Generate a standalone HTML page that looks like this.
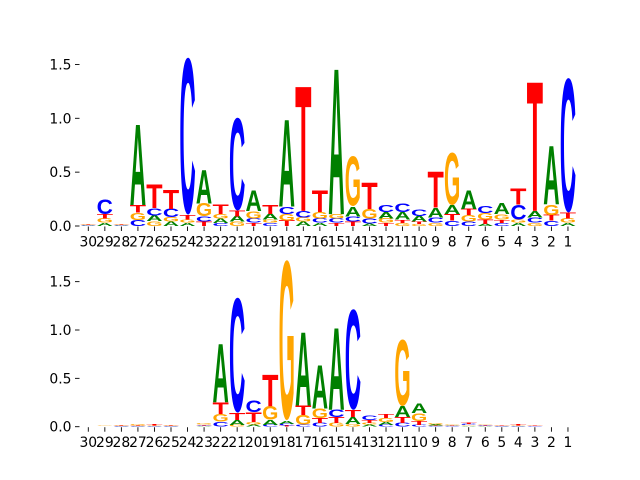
<!DOCTYPE html>
<html><head><meta charset="utf-8"><style>
html,body{margin:0;padding:0;background:#fff;}
svg{display:block;font-family:"DejaVu Sans","Liberation Sans",sans-serif;}
</style></head><body>
<svg id="chart" width="640" height="480" viewBox="0 0 640 480">
<g id="top"></g>
<g id="bottom"></g>
</svg>
<script>
// positions labels (left to right)
const positions = [30,29,28,27,26,25,24,23,22,21,20,19,18,17,16,15,14,13,12,11,10,9,8,7,6,5,4,3,2,1];
const yTicks = [0.0, 0.5, 1.0, 1.5];
const yTickLabels = ["0.0","0.5","1.0","1.5"];
// top panel letter heights per position [A,C,G,T]
const topA = [.005,.03,.005,.74,.05,.04,.03,.31,.04,.05,.19,.05,.80,.04,.03,1.34,.09,.02,.06,.07,.05,.09,.08,.17,.02,.10,.03,.06,.54,.03];
const topC = [.005,.14,.005,.055,.07,.08,1.47,.05,.03,.87,.04,.03,.07,.06,.04,.04,.05,.05,.07,.08,.06,.05,.05,.04,.07,.03,.14,.05,.05,1.26];
const topG = [.005,.04,.005,.07,.045,.04,.03,.12,.04,.04,.07,.03,.06,.04,.06,.04,.47,.09,.04,.03,.02,.03,.49,.06,.06,.05,.03,.03,.10,.04];
const topT = [.005,.04,.005,.07,.22,.18,.04,.04,.09,.05,.03,.08,.05,1.15,.20,.03,.04,.24,.03,.03,.02,.33,.06,.06,.04,.03,.15,1.19,.05,.05];
// bottom panel letter heights per position [A,C,G,T]
const botA = [.002,.002,.003,.004,.003,.003,.002,.006,.60,.05,.02,.05,.03,.75,.44,.84,.07,.02,.03,.11,.10,.01,.006,.008,.005,.003,.003,.002,.001,.001];
const botC = [.002,.002,.003,.004,.004,.003,.002,.006,.05,1.20,.12,.02,.02,.02,.04,.08,1.05,.05,.02,.04,.02,.006,.005,.012,.006,.003,.004,.003,.001,.001];
const botG = [.002,.003,.004,.012,.004,.004,.002,.012,.08,.02,.03,.14,1.67,.10,.10,.04,.03,.02,.04,.69,.08,.01,.006,.008,.006,.003,.004,.003,.001,.002];
const botT = [.002,.002,.004,.006,.012,.004,.002,.008,.12,.07,.10,.32,.01,.10,.05,.06,.07,.03,.04,.06,.04,.006,.005,.012,.005,.003,.012,.003,.001,.001];

const colors = {A:"#008000",C:"#0000ff",G:"#ffa500",T:"#ff0000"};
const NS = "http://www.w3.org/2000/svg";
const x0 = 88.3, dx = 16.54, colW = 16.3;
function xScale(i){ return x0 + i*dx; }

function drawPanel(gid, base, pxPerUnit, A, C, G, T){
  const g = document.getElementById(gid);
  const yScale = v => base - v*pxPerUnit;
  yTicks.forEach((v,k)=>{
    const y = yScale(v);
    const ln = document.createElementNS(NS,"line");
    
    
    ln.setAttribute("x1",75); ln.setAttribute("x2",79.5);
    ln.setAttribute("y1",y); ln.setAttribute("y2",y);
    ln.setAttribute("stroke","#000"); ln.setAttribute("stroke-width","0.9");
    g.appendChild(ln);
    const t = document.createElementNS(NS,"text");
    
    
    t.setAttribute("x",71.5); t.setAttribute("y",y+5);
    t.setAttribute("text-anchor","end"); t.setAttribute("font-size","13.9");
    t.textContent = yTickLabels[k];
    g.appendChild(t);
  });
  positions.forEach((p,i)=>{
    const x = xScale(i);
    const ln = document.createElementNS(NS,"line");
    
    
    ln.setAttribute("x1",x); ln.setAttribute("x2",x);
    ln.setAttribute("y1",base+0.5); ln.setAttribute("y2",base+5);
    ln.setAttribute("stroke","#000"); ln.setAttribute("stroke-width","0.9");
    g.appendChild(ln);
    const t = document.createElementNS(NS,"text");
    
    
    t.setAttribute("x",x); t.setAttribute("y",base+20.5);
    t.setAttribute("text-anchor","middle"); t.setAttribute("font-size","13.9");
    t.textContent = String(p);
    g.appendChild(t);
  });
  positions.forEach((p,i)=>{
    const col = [["A",A[i]],["C",C[i]],["G",G[i]],["T",T[i]]].sort((a,b)=>a[1]-b[1]);
    let cum = 0;
    col.forEach(([L,h])=>{
      const yb = yScale(cum);
      cum += h;
      if (h < 0.0015) return;
      const hp = h*pxPerUnit;
      const capH = (L==="C"||L==="G") ? 71.5 : 68.8;
      const off = (L==="C"||L==="G") ? 1.3 : 0;
      const t = document.createElementNS(NS,"text");
      
      
      t.setAttribute("x", xScale(i) - colW/2);
      t.setAttribute("y", -off);
      t.setAttribute("font-family", "'Liberation Sans', sans-serif");
      t.setAttribute("font-weight", "bold");
      t.setAttribute("font-size", "100");
      t.setAttribute("textLength", colW);
      t.setAttribute("lengthAdjust", "spacingAndGlyphs");
      t.setAttribute("fill", colors[L]);
      t.setAttribute("transform", "translate(0," + yb + ") scale(1," + (hp/capH) + ")");
      t.textContent = L;
      g.appendChild(t);
    });
  });
}
drawPanel("top", 226, 107.7, topA, topC, topG, topT);
drawPanel("bottom", 426.7, 96.7, botA, botC, botG, botT);
</script>
</body></html>
